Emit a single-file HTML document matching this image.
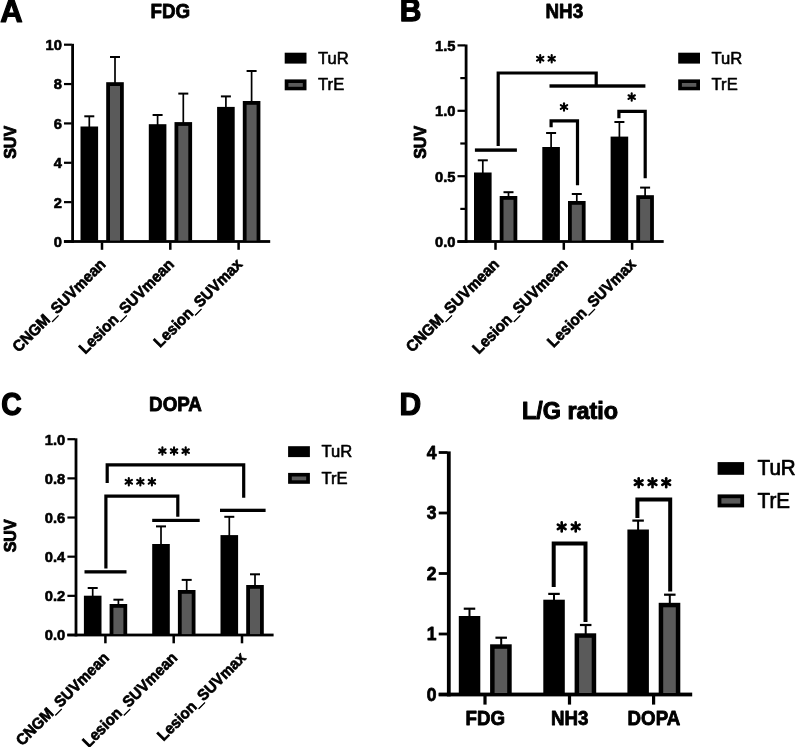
<!DOCTYPE html>
<html><head><meta charset="utf-8"><title>Figure</title>
<style>
html,body{margin:0;padding:0;background:#fff;}
body{width:796px;height:747px;overflow:hidden;font-family:"Liberation Sans",sans-serif;}
svg{display:block;filter:grayscale(1) blur(0.3px);}
svg text{font-family:"Liberation Sans",sans-serif;fill:#000;}
</style></head><body>
<svg width="796" height="747" viewBox="0 0 796 747">
<rect x="0" y="0" width="796" height="747" fill="#fff"/>
<rect x="71.20" y="43.80" width="2.80" height="199.10" fill="#000"/>
<rect x="63.90" y="240.10" width="206.30" height="2.80" fill="#000"/>
<rect x="64.00" y="240.40" width="7.70" height="2.20" fill="#000"/>
<text font-size="14.7" font-weight="bold" text-anchor="end" transform="translate(61.90,246.90) scale(1,1.04)" stroke="#000" stroke-width="0.62" stroke-linejoin="round">0</text>
<rect x="64.00" y="201.04" width="7.70" height="2.20" fill="#000"/>
<text font-size="14.7" font-weight="bold" text-anchor="end" transform="translate(61.90,207.54) scale(1,1.04)" stroke="#000" stroke-width="0.62" stroke-linejoin="round">2</text>
<rect x="64.00" y="161.68" width="7.70" height="2.20" fill="#000"/>
<text font-size="14.7" font-weight="bold" text-anchor="end" transform="translate(61.90,168.18) scale(1,1.04)" stroke="#000" stroke-width="0.62" stroke-linejoin="round">4</text>
<rect x="64.00" y="122.32" width="7.70" height="2.20" fill="#000"/>
<text font-size="14.7" font-weight="bold" text-anchor="end" transform="translate(61.90,128.82) scale(1,1.04)" stroke="#000" stroke-width="0.62" stroke-linejoin="round">6</text>
<rect x="64.00" y="82.96" width="7.70" height="2.20" fill="#000"/>
<text font-size="14.7" font-weight="bold" text-anchor="end" transform="translate(61.90,89.46) scale(1,1.04)" stroke="#000" stroke-width="0.62" stroke-linejoin="round">8</text>
<rect x="64.00" y="43.60" width="7.70" height="2.20" fill="#000"/>
<text font-size="14.7" font-weight="bold" text-anchor="end" transform="translate(61.90,50.10) scale(1,1.04)" stroke="#000" stroke-width="0.62" stroke-linejoin="round">10</text>
<rect x="100.75" y="242.40" width="2.50" height="7.40" fill="#000"/>
<rect x="169.05" y="242.40" width="2.50" height="7.40" fill="#000"/>
<rect x="237.35" y="242.40" width="2.50" height="7.40" fill="#000"/>
<rect x="80.50" y="126.50" width="17.60" height="114.10" fill="#000"/>
<rect x="88.45" y="116.30" width="1.70" height="11.20" fill="#000"/>
<rect x="84.30" y="115.30" width="10.00" height="2.00" fill="#000"/>
<rect x="106.20" y="82.20" width="17.60" height="158.40" fill="#000"/>
<rect x="110.00" y="86.00" width="10.00" height="154.60" fill="#5a5a5a"/>
<rect x="114.15" y="57.00" width="1.70" height="26.20" fill="#000"/>
<rect x="110.00" y="56.00" width="10.00" height="2.00" fill="#000"/>
<text font-size="15.0" font-weight="bold" text-anchor="end" transform="translate(106.60,265.20) rotate(-45) scale(1,1.04)" stroke="#000" stroke-width="0.63" stroke-linejoin="round">CNGM_SUVmean</text>
<rect x="148.80" y="124.20" width="17.60" height="116.40" fill="#000"/>
<rect x="156.75" y="115.00" width="1.70" height="10.20" fill="#000"/>
<rect x="152.60" y="114.00" width="10.00" height="2.00" fill="#000"/>
<rect x="174.50" y="122.10" width="17.60" height="118.50" fill="#000"/>
<rect x="178.30" y="125.90" width="10.00" height="114.70" fill="#5a5a5a"/>
<rect x="182.45" y="93.60" width="1.70" height="29.50" fill="#000"/>
<rect x="178.30" y="92.60" width="10.00" height="2.00" fill="#000"/>
<text font-size="15.0" font-weight="bold" text-anchor="end" transform="translate(174.90,265.20) rotate(-45) scale(1,1.04)" stroke="#000" stroke-width="0.63" stroke-linejoin="round">Lesion_SUVmean</text>
<rect x="217.10" y="106.90" width="17.60" height="133.70" fill="#000"/>
<rect x="225.05" y="96.40" width="1.70" height="11.50" fill="#000"/>
<rect x="220.90" y="95.40" width="10.00" height="2.00" fill="#000"/>
<rect x="242.80" y="101.00" width="17.60" height="139.60" fill="#000"/>
<rect x="246.60" y="104.80" width="10.00" height="135.80" fill="#5a5a5a"/>
<rect x="250.75" y="71.00" width="1.70" height="31.00" fill="#000"/>
<rect x="246.60" y="70.00" width="10.00" height="2.00" fill="#000"/>
<text font-size="15.0" font-weight="bold" text-anchor="end" transform="translate(243.20,265.20) rotate(-45) scale(1,1.04)" stroke="#000" stroke-width="0.63" stroke-linejoin="round">Lesion_SUVmax</text>
<text font-size="16" font-weight="bold" text-anchor="middle" transform="translate(15.60,142.40) rotate(-90) scale(1,1.04)" stroke="#000" stroke-width="0.85" stroke-linejoin="round">SUV</text>
<rect x="284.70" y="52.70" width="21.80" height="10.90" fill="#000"/>
<text font-size="16.6" font-weight="normal" text-anchor="start" transform="translate(318.10,63.70) scale(1,1.04)" stroke="#000" stroke-width="0.58" stroke-linejoin="round">TuR</text>
<rect x="284.70" y="79.40" width="21.80" height="10.90" fill="#000"/>
<rect x="288.40" y="83.00" width="14.40" height="3.80" fill="#5a5a5a"/>
<text font-size="16.6" font-weight="normal" text-anchor="start" transform="translate(318.10,90.40) scale(1,1.04)" stroke="#000" stroke-width="0.58" stroke-linejoin="round">TrE</text>
<text font-size="31.0" font-weight="bold" text-anchor="start" transform="translate(0.37,21.50) scale(1,1.0)" stroke="#000" stroke-width="1.20" stroke-linejoin="round">A</text>
<text font-size="18.8" font-weight="bold" text-anchor="middle" transform="translate(170.40,18.30) scale(1,1.04)" stroke="#000" stroke-width="0.79" stroke-linejoin="round">FDG</text>
<rect x="464.70" y="44.50" width="2.80" height="198.40" fill="#000"/>
<rect x="457.40" y="240.10" width="206.30" height="2.80" fill="#000"/>
<rect x="457.50" y="240.50" width="7.70" height="2.20" fill="#000"/>
<text font-size="14.7" font-weight="bold" text-anchor="end" transform="translate(455.40,247.00) scale(1,1.04)" stroke="#000" stroke-width="0.62" stroke-linejoin="round">0.0</text>
<rect x="457.50" y="175.10" width="7.70" height="2.20" fill="#000"/>
<text font-size="14.7" font-weight="bold" text-anchor="end" transform="translate(455.40,181.60) scale(1,1.04)" stroke="#000" stroke-width="0.62" stroke-linejoin="round">0.5</text>
<rect x="457.50" y="109.70" width="7.70" height="2.20" fill="#000"/>
<text font-size="14.7" font-weight="bold" text-anchor="end" transform="translate(455.40,116.20) scale(1,1.04)" stroke="#000" stroke-width="0.62" stroke-linejoin="round">1.0</text>
<rect x="457.50" y="44.30" width="7.70" height="2.20" fill="#000"/>
<text font-size="14.7" font-weight="bold" text-anchor="end" transform="translate(455.40,50.80) scale(1,1.04)" stroke="#000" stroke-width="0.62" stroke-linejoin="round">1.5</text>
<rect x="460.30" y="207.80" width="4.90" height="2.20" fill="#000"/>
<rect x="460.30" y="142.40" width="4.90" height="2.20" fill="#000"/>
<rect x="460.30" y="77.00" width="4.90" height="2.20" fill="#000"/>
<rect x="494.25" y="242.40" width="2.50" height="7.40" fill="#000"/>
<rect x="562.55" y="242.40" width="2.50" height="7.40" fill="#000"/>
<rect x="630.85" y="242.40" width="2.50" height="7.40" fill="#000"/>
<rect x="474.00" y="172.50" width="17.60" height="68.10" fill="#000"/>
<rect x="481.95" y="160.30" width="1.70" height="13.20" fill="#000"/>
<rect x="477.80" y="159.30" width="10.00" height="2.00" fill="#000"/>
<rect x="499.70" y="196.00" width="17.60" height="44.60" fill="#000"/>
<rect x="503.50" y="199.80" width="10.00" height="40.80" fill="#5a5a5a"/>
<rect x="507.65" y="192.20" width="1.70" height="4.80" fill="#000"/>
<rect x="503.50" y="191.20" width="10.00" height="2.00" fill="#000"/>
<text font-size="15.0" font-weight="bold" text-anchor="end" transform="translate(500.10,265.20) rotate(-45) scale(1,1.04)" stroke="#000" stroke-width="0.63" stroke-linejoin="round">CNGM_SUVmean</text>
<rect x="542.30" y="147.00" width="17.60" height="93.60" fill="#000"/>
<rect x="550.25" y="133.00" width="1.70" height="15.00" fill="#000"/>
<rect x="546.10" y="132.00" width="10.00" height="2.00" fill="#000"/>
<rect x="568.00" y="201.00" width="17.60" height="39.60" fill="#000"/>
<rect x="571.80" y="204.80" width="10.00" height="35.80" fill="#5a5a5a"/>
<rect x="575.95" y="194.00" width="1.70" height="8.00" fill="#000"/>
<rect x="571.80" y="193.00" width="10.00" height="2.00" fill="#000"/>
<text font-size="15.0" font-weight="bold" text-anchor="end" transform="translate(568.40,265.20) rotate(-45) scale(1,1.04)" stroke="#000" stroke-width="0.63" stroke-linejoin="round">Lesion_SUVmean</text>
<rect x="610.60" y="136.60" width="17.60" height="104.00" fill="#000"/>
<rect x="618.55" y="122.00" width="1.70" height="15.60" fill="#000"/>
<rect x="614.40" y="121.00" width="10.00" height="2.00" fill="#000"/>
<rect x="636.30" y="195.20" width="17.60" height="45.40" fill="#000"/>
<rect x="640.10" y="199.00" width="10.00" height="41.60" fill="#5a5a5a"/>
<rect x="644.25" y="187.60" width="1.70" height="8.60" fill="#000"/>
<rect x="640.10" y="186.60" width="10.00" height="2.00" fill="#000"/>
<text font-size="15.0" font-weight="bold" text-anchor="end" transform="translate(636.70,265.20) rotate(-45) scale(1,1.04)" stroke="#000" stroke-width="0.63" stroke-linejoin="round">Lesion_SUVmax</text>
<text font-size="16" font-weight="bold" text-anchor="middle" transform="translate(425.70,142.40) rotate(-90) scale(1,1.04)" stroke="#000" stroke-width="0.85" stroke-linejoin="round">SUV</text>
<rect x="678.20" y="52.70" width="21.80" height="10.90" fill="#000"/>
<text font-size="16.6" font-weight="normal" text-anchor="start" transform="translate(711.60,63.70) scale(1,1.04)" stroke="#000" stroke-width="0.58" stroke-linejoin="round">TuR</text>
<rect x="678.20" y="79.40" width="21.80" height="10.90" fill="#000"/>
<rect x="681.90" y="83.00" width="14.40" height="3.80" fill="#5a5a5a"/>
<text font-size="16.6" font-weight="normal" text-anchor="start" transform="translate(711.60,90.40) scale(1,1.04)" stroke="#000" stroke-width="0.58" stroke-linejoin="round">TrE</text>
<text font-size="30.0" font-weight="bold" text-anchor="start" transform="translate(399.70,21.30) scale(1,1.05)" stroke="#000" stroke-width="1.20" stroke-linejoin="round">B</text>
<text font-size="18.8" font-weight="bold" text-anchor="middle" transform="translate(564.30,18.30) scale(1,1.04)" stroke="#000" stroke-width="0.79" stroke-linejoin="round">NH3</text>
<rect x="474.90" y="148.40" width="42.00" height="3.40" fill="#000"/>
<polyline points="498.20,146.00 498.20,73.00 596.20,73.00 596.20,85.00" fill="none" stroke="#000" stroke-width="3.2" stroke-linejoin="miter"/>
<rect x="549.50" y="84.30" width="95.90" height="3.40" fill="#000"/>
<line x1="540.20" y1="55.00" x2="540.20" y2="62.40" stroke="#000" stroke-width="2.1" stroke-linecap="round"/>
<line x1="537.00" y1="56.85" x2="543.40" y2="60.55" stroke="#000" stroke-width="2.1" stroke-linecap="round"/>
<line x1="543.40" y1="56.85" x2="537.00" y2="60.55" stroke="#000" stroke-width="2.1" stroke-linecap="round"/>
<line x1="551.70" y1="55.00" x2="551.70" y2="62.40" stroke="#000" stroke-width="2.1" stroke-linecap="round"/>
<line x1="548.50" y1="56.85" x2="554.90" y2="60.55" stroke="#000" stroke-width="2.1" stroke-linecap="round"/>
<line x1="554.90" y1="56.85" x2="548.50" y2="60.55" stroke="#000" stroke-width="2.1" stroke-linecap="round"/>
<polyline points="551.10,127.20 551.10,120.80 577.50,120.80 577.50,185.30" fill="none" stroke="#000" stroke-width="3.2" stroke-linejoin="miter"/>
<line x1="564.00" y1="103.30" x2="564.00" y2="110.70" stroke="#000" stroke-width="2.1" stroke-linecap="round"/>
<line x1="560.80" y1="105.15" x2="567.20" y2="108.85" stroke="#000" stroke-width="2.1" stroke-linecap="round"/>
<line x1="567.20" y1="105.15" x2="560.80" y2="108.85" stroke="#000" stroke-width="2.1" stroke-linecap="round"/>
<polyline points="618.90,118.30 618.90,111.40 645.20,111.40 645.20,178.20" fill="none" stroke="#000" stroke-width="3.2" stroke-linejoin="miter"/>
<line x1="631.70" y1="93.40" x2="631.70" y2="100.80" stroke="#000" stroke-width="2.1" stroke-linecap="round"/>
<line x1="628.50" y1="95.25" x2="634.90" y2="98.95" stroke="#000" stroke-width="2.1" stroke-linecap="round"/>
<line x1="634.90" y1="95.25" x2="628.50" y2="98.95" stroke="#000" stroke-width="2.1" stroke-linecap="round"/>
<rect x="74.60" y="438.30" width="2.80" height="198.10" fill="#000"/>
<rect x="67.30" y="633.60" width="206.30" height="2.80" fill="#000"/>
<rect x="67.40" y="633.90" width="7.70" height="2.20" fill="#000"/>
<text font-size="14.7" font-weight="bold" text-anchor="end" transform="translate(65.30,640.40) scale(1,1.04)" stroke="#000" stroke-width="0.62" stroke-linejoin="round">0.0</text>
<rect x="67.40" y="594.74" width="7.70" height="2.20" fill="#000"/>
<text font-size="14.7" font-weight="bold" text-anchor="end" transform="translate(65.30,601.24) scale(1,1.04)" stroke="#000" stroke-width="0.62" stroke-linejoin="round">0.2</text>
<rect x="67.40" y="555.58" width="7.70" height="2.20" fill="#000"/>
<text font-size="14.7" font-weight="bold" text-anchor="end" transform="translate(65.30,562.08) scale(1,1.04)" stroke="#000" stroke-width="0.62" stroke-linejoin="round">0.4</text>
<rect x="67.40" y="516.42" width="7.70" height="2.20" fill="#000"/>
<text font-size="14.7" font-weight="bold" text-anchor="end" transform="translate(65.30,522.92) scale(1,1.04)" stroke="#000" stroke-width="0.62" stroke-linejoin="round">0.6</text>
<rect x="67.40" y="477.26" width="7.70" height="2.20" fill="#000"/>
<text font-size="14.7" font-weight="bold" text-anchor="end" transform="translate(65.30,483.76) scale(1,1.04)" stroke="#000" stroke-width="0.62" stroke-linejoin="round">0.8</text>
<rect x="67.40" y="438.10" width="7.70" height="2.20" fill="#000"/>
<text font-size="14.7" font-weight="bold" text-anchor="end" transform="translate(65.30,444.60) scale(1,1.04)" stroke="#000" stroke-width="0.62" stroke-linejoin="round">1.0</text>
<rect x="104.15" y="635.90" width="2.50" height="7.40" fill="#000"/>
<rect x="172.45" y="635.90" width="2.50" height="7.40" fill="#000"/>
<rect x="240.75" y="635.90" width="2.50" height="7.40" fill="#000"/>
<rect x="83.90" y="595.70" width="17.60" height="38.40" fill="#000"/>
<rect x="91.85" y="588.00" width="1.70" height="8.70" fill="#000"/>
<rect x="87.70" y="587.00" width="10.00" height="2.00" fill="#000"/>
<rect x="109.60" y="604.00" width="17.60" height="30.10" fill="#000"/>
<rect x="113.40" y="607.80" width="10.00" height="26.30" fill="#5a5a5a"/>
<rect x="117.55" y="599.70" width="1.70" height="5.30" fill="#000"/>
<rect x="113.40" y="598.70" width="10.00" height="2.00" fill="#000"/>
<text font-size="15.0" font-weight="bold" text-anchor="end" transform="translate(110.00,658.70) rotate(-45) scale(1,1.04)" stroke="#000" stroke-width="0.63" stroke-linejoin="round">CNGM_SUVmean</text>
<rect x="152.20" y="544.00" width="17.60" height="90.10" fill="#000"/>
<rect x="160.15" y="526.40" width="1.70" height="18.60" fill="#000"/>
<rect x="156.00" y="525.40" width="10.00" height="2.00" fill="#000"/>
<rect x="177.90" y="590.00" width="17.60" height="44.10" fill="#000"/>
<rect x="181.70" y="593.80" width="10.00" height="40.30" fill="#5a5a5a"/>
<rect x="185.85" y="579.90" width="1.70" height="11.10" fill="#000"/>
<rect x="181.70" y="578.90" width="10.00" height="2.00" fill="#000"/>
<text font-size="15.0" font-weight="bold" text-anchor="end" transform="translate(178.30,658.70) rotate(-45) scale(1,1.04)" stroke="#000" stroke-width="0.63" stroke-linejoin="round">Lesion_SUVmean</text>
<rect x="220.50" y="535.10" width="17.60" height="99.00" fill="#000"/>
<rect x="228.45" y="516.80" width="1.70" height="19.30" fill="#000"/>
<rect x="224.30" y="515.80" width="10.00" height="2.00" fill="#000"/>
<rect x="246.20" y="585.00" width="17.60" height="49.10" fill="#000"/>
<rect x="250.00" y="588.80" width="10.00" height="45.30" fill="#5a5a5a"/>
<rect x="254.15" y="574.30" width="1.70" height="11.70" fill="#000"/>
<rect x="250.00" y="573.30" width="10.00" height="2.00" fill="#000"/>
<text font-size="15.0" font-weight="bold" text-anchor="end" transform="translate(246.60,658.70) rotate(-45) scale(1,1.04)" stroke="#000" stroke-width="0.63" stroke-linejoin="round">Lesion_SUVmax</text>
<text font-size="16" font-weight="bold" text-anchor="middle" transform="translate(15.60,535.90) rotate(-90) scale(1,1.04)" stroke="#000" stroke-width="0.85" stroke-linejoin="round">SUV</text>
<rect x="288.10" y="446.20" width="21.80" height="10.90" fill="#000"/>
<text font-size="16.6" font-weight="normal" text-anchor="start" transform="translate(321.50,457.20) scale(1,1.04)" stroke="#000" stroke-width="0.58" stroke-linejoin="round">TuR</text>
<rect x="288.10" y="472.90" width="21.80" height="10.90" fill="#000"/>
<rect x="291.80" y="476.50" width="14.40" height="3.80" fill="#5a5a5a"/>
<text font-size="16.6" font-weight="normal" text-anchor="start" transform="translate(321.50,483.90) scale(1,1.04)" stroke="#000" stroke-width="0.58" stroke-linejoin="round">TrE</text>
<text font-size="28.4" font-weight="bold" text-anchor="start" transform="translate(1.26,415.00) scale(1,1.11)" stroke="#000" stroke-width="1.20" stroke-linejoin="round">C</text>
<text font-size="18.8" font-weight="bold" text-anchor="middle" transform="translate(175.50,411.30) scale(1,1.04)" stroke="#000" stroke-width="0.79" stroke-linejoin="round">DOPA</text>
<rect x="84.50" y="570.20" width="42.00" height="3.30" fill="#000"/>
<rect x="152.20" y="518.80" width="47.50" height="3.20" fill="#000"/>
<rect x="220.00" y="508.70" width="45.60" height="3.30" fill="#000"/>
<polyline points="107.20,482.90 107.20,464.90 243.70,464.90 243.70,497.70" fill="none" stroke="#000" stroke-width="3.2" stroke-linejoin="miter"/>
<line x1="162.40" y1="447.40" x2="162.40" y2="454.80" stroke="#000" stroke-width="2.1" stroke-linecap="round"/>
<line x1="159.20" y1="449.25" x2="165.60" y2="452.95" stroke="#000" stroke-width="2.1" stroke-linecap="round"/>
<line x1="165.60" y1="449.25" x2="159.20" y2="452.95" stroke="#000" stroke-width="2.1" stroke-linecap="round"/>
<line x1="174.05" y1="447.40" x2="174.05" y2="454.80" stroke="#000" stroke-width="2.1" stroke-linecap="round"/>
<line x1="170.85" y1="449.25" x2="177.25" y2="452.95" stroke="#000" stroke-width="2.1" stroke-linecap="round"/>
<line x1="177.25" y1="449.25" x2="170.85" y2="452.95" stroke="#000" stroke-width="2.1" stroke-linecap="round"/>
<line x1="185.70" y1="447.40" x2="185.70" y2="454.80" stroke="#000" stroke-width="2.1" stroke-linecap="round"/>
<line x1="182.50" y1="449.25" x2="188.90" y2="452.95" stroke="#000" stroke-width="2.1" stroke-linecap="round"/>
<line x1="188.90" y1="449.25" x2="182.50" y2="452.95" stroke="#000" stroke-width="2.1" stroke-linecap="round"/>
<polyline points="105.90,568.50 105.90,496.20 177.80,496.20 177.80,516.80" fill="none" stroke="#000" stroke-width="3.2" stroke-linejoin="miter"/>
<line x1="128.80" y1="478.10" x2="128.80" y2="485.50" stroke="#000" stroke-width="2.1" stroke-linecap="round"/>
<line x1="125.60" y1="479.95" x2="132.00" y2="483.65" stroke="#000" stroke-width="2.1" stroke-linecap="round"/>
<line x1="132.00" y1="479.95" x2="125.60" y2="483.65" stroke="#000" stroke-width="2.1" stroke-linecap="round"/>
<line x1="140.35" y1="478.10" x2="140.35" y2="485.50" stroke="#000" stroke-width="2.1" stroke-linecap="round"/>
<line x1="137.15" y1="479.95" x2="143.55" y2="483.65" stroke="#000" stroke-width="2.1" stroke-linecap="round"/>
<line x1="143.55" y1="479.95" x2="137.15" y2="483.65" stroke="#000" stroke-width="2.1" stroke-linecap="round"/>
<line x1="151.90" y1="478.10" x2="151.90" y2="485.50" stroke="#000" stroke-width="2.1" stroke-linecap="round"/>
<line x1="148.70" y1="479.95" x2="155.10" y2="483.65" stroke="#000" stroke-width="2.1" stroke-linecap="round"/>
<line x1="155.10" y1="479.95" x2="148.70" y2="483.65" stroke="#000" stroke-width="2.1" stroke-linecap="round"/>
<rect x="446.90" y="451.40" width="3.80" height="245.00" fill="#000"/>
<rect x="438.70" y="692.60" width="253.50" height="3.80" fill="#000"/>
<rect x="438.70" y="693.10" width="8.70" height="2.80" fill="#000"/>
<text font-size="17.5" font-weight="bold" text-anchor="end" transform="translate(436.40,700.60) scale(1,1.04)" stroke="#000" stroke-width="0.74" stroke-linejoin="round">0</text>
<rect x="438.70" y="632.60" width="8.70" height="2.80" fill="#000"/>
<text font-size="17.5" font-weight="bold" text-anchor="end" transform="translate(436.40,640.10) scale(1,1.04)" stroke="#000" stroke-width="0.74" stroke-linejoin="round">1</text>
<rect x="438.70" y="572.10" width="8.70" height="2.80" fill="#000"/>
<text font-size="17.5" font-weight="bold" text-anchor="end" transform="translate(436.40,579.60) scale(1,1.04)" stroke="#000" stroke-width="0.74" stroke-linejoin="round">2</text>
<rect x="438.70" y="511.60" width="8.70" height="2.80" fill="#000"/>
<text font-size="17.5" font-weight="bold" text-anchor="end" transform="translate(436.40,519.10) scale(1,1.04)" stroke="#000" stroke-width="0.74" stroke-linejoin="round">3</text>
<rect x="438.70" y="451.10" width="8.70" height="2.80" fill="#000"/>
<text font-size="17.5" font-weight="bold" text-anchor="end" transform="translate(436.40,458.60) scale(1,1.04)" stroke="#000" stroke-width="0.74" stroke-linejoin="round">4</text>
<rect x="483.40" y="696.00" width="3.20" height="8.60" fill="#000"/>
<rect x="458.80" y="616.00" width="21.50" height="77.00" fill="#000"/>
<rect x="468.50" y="608.70" width="2.00" height="8.30" fill="#000"/>
<rect x="463.75" y="607.60" width="11.50" height="2.20" fill="#000"/>
<rect x="490.10" y="644.30" width="21.60" height="48.70" fill="#000"/>
<rect x="494.60" y="648.80" width="12.60" height="44.20" fill="#5a5a5a"/>
<rect x="500.20" y="637.70" width="2.00" height="7.60" fill="#000"/>
<rect x="495.45" y="636.60" width="11.50" height="2.20" fill="#000"/>
<text font-size="18.7" font-weight="bold" text-anchor="middle" transform="translate(485.30,725.00) scale(1,1.04)" stroke="#000" stroke-width="0.79" stroke-linejoin="round">FDG</text>
<rect x="567.90" y="696.00" width="3.20" height="8.60" fill="#000"/>
<rect x="543.30" y="599.70" width="21.50" height="93.30" fill="#000"/>
<rect x="553.00" y="593.90" width="2.00" height="6.80" fill="#000"/>
<rect x="548.25" y="592.80" width="11.50" height="2.20" fill="#000"/>
<rect x="574.60" y="633.30" width="21.60" height="59.70" fill="#000"/>
<rect x="579.10" y="637.80" width="12.60" height="55.20" fill="#5a5a5a"/>
<rect x="584.70" y="625.00" width="2.00" height="9.30" fill="#000"/>
<rect x="579.95" y="623.90" width="11.50" height="2.20" fill="#000"/>
<text font-size="18.7" font-weight="bold" text-anchor="middle" transform="translate(569.80,725.00) scale(1,1.04)" stroke="#000" stroke-width="0.79" stroke-linejoin="round">NH3</text>
<rect x="652.00" y="696.00" width="3.20" height="8.60" fill="#000"/>
<rect x="627.40" y="529.50" width="21.50" height="163.50" fill="#000"/>
<rect x="637.10" y="520.60" width="2.00" height="9.90" fill="#000"/>
<rect x="632.35" y="519.50" width="11.50" height="2.20" fill="#000"/>
<rect x="658.70" y="602.80" width="21.60" height="90.20" fill="#000"/>
<rect x="663.20" y="607.30" width="12.60" height="85.70" fill="#5a5a5a"/>
<rect x="668.80" y="594.70" width="2.00" height="9.10" fill="#000"/>
<rect x="664.05" y="593.60" width="11.50" height="2.20" fill="#000"/>
<text font-size="18.7" font-weight="bold" text-anchor="middle" transform="translate(653.90,725.00) scale(1,1.04)" stroke="#000" stroke-width="0.79" stroke-linejoin="round">DOPA</text>
<text font-size="30.0" font-weight="bold" text-anchor="start" transform="translate(399.60,415.10) scale(1,1.017)" stroke="#000" stroke-width="1.20" stroke-linejoin="round">D</text>
<text font-size="23.4" font-weight="bold" text-anchor="middle" transform="translate(570.00,419.20) scale(1,1.04)" stroke="#000" stroke-width="0.98" stroke-linejoin="round">L/G ratio</text>
<polyline points="553.70,587.00 553.70,543.50 585.50,543.50 585.50,621.90" fill="none" stroke="#000" stroke-width="4.0" stroke-linejoin="miter"/>
<line x1="561.70" y1="522.40" x2="561.70" y2="531.40" stroke="#000" stroke-width="2.6" stroke-linecap="round"/>
<line x1="557.80" y1="524.65" x2="565.60" y2="529.15" stroke="#000" stroke-width="2.6" stroke-linecap="round"/>
<line x1="565.60" y1="524.65" x2="557.80" y2="529.15" stroke="#000" stroke-width="2.6" stroke-linecap="round"/>
<line x1="575.70" y1="522.40" x2="575.70" y2="531.40" stroke="#000" stroke-width="2.6" stroke-linecap="round"/>
<line x1="571.80" y1="524.65" x2="579.60" y2="529.15" stroke="#000" stroke-width="2.6" stroke-linecap="round"/>
<line x1="579.60" y1="524.65" x2="571.80" y2="529.15" stroke="#000" stroke-width="2.6" stroke-linecap="round"/>
<polyline points="637.40,518.00 637.40,499.40 670.20,499.40 670.20,591.40" fill="none" stroke="#000" stroke-width="4.0" stroke-linejoin="miter"/>
<line x1="638.70" y1="478.20" x2="638.70" y2="487.20" stroke="#000" stroke-width="2.6" stroke-linecap="round"/>
<line x1="634.80" y1="480.45" x2="642.60" y2="484.95" stroke="#000" stroke-width="2.6" stroke-linecap="round"/>
<line x1="642.60" y1="480.45" x2="634.80" y2="484.95" stroke="#000" stroke-width="2.6" stroke-linecap="round"/>
<line x1="652.50" y1="478.20" x2="652.50" y2="487.20" stroke="#000" stroke-width="2.6" stroke-linecap="round"/>
<line x1="648.60" y1="480.45" x2="656.40" y2="484.95" stroke="#000" stroke-width="2.6" stroke-linecap="round"/>
<line x1="656.40" y1="480.45" x2="648.60" y2="484.95" stroke="#000" stroke-width="2.6" stroke-linecap="round"/>
<line x1="666.20" y1="478.20" x2="666.20" y2="487.20" stroke="#000" stroke-width="2.6" stroke-linecap="round"/>
<line x1="662.30" y1="480.45" x2="670.10" y2="484.95" stroke="#000" stroke-width="2.6" stroke-linecap="round"/>
<line x1="670.10" y1="480.45" x2="662.30" y2="484.95" stroke="#000" stroke-width="2.6" stroke-linecap="round"/>
<rect x="717.60" y="462.10" width="26.50" height="12.70" fill="#000"/>
<text font-size="20.6" font-weight="normal" text-anchor="start" transform="translate(757.60,474.90) scale(1,1.04)" stroke="#000" stroke-width="0.72" stroke-linejoin="round">TuR</text>
<rect x="717.60" y="494.40" width="26.50" height="13.00" fill="#000"/>
<rect x="721.40" y="498.20" width="18.90" height="5.40" fill="#5a5a5a"/>
<text font-size="20.6" font-weight="normal" text-anchor="start" transform="translate(757.60,507.50) scale(1,1.04)" stroke="#000" stroke-width="0.72" stroke-linejoin="round">TrE</text>
</svg>
</body></html>
